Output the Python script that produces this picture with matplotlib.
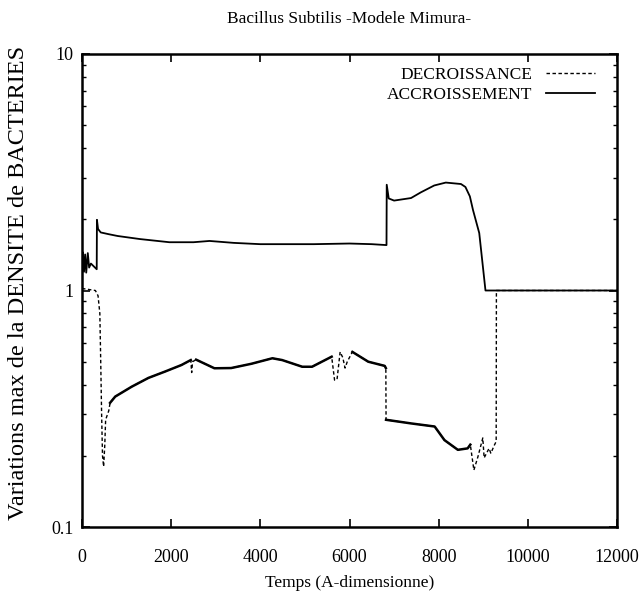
import matplotlib
matplotlib.use("Agg")
import matplotlib.pyplot as plt
import numpy as np

plt.rcParams['font.family'] = ['Liberation Serif', 'DejaVu Serif']

# ACCROISSEMENT (trait plein)
t_acc = [0, 20, 45, 70, 95, 130, 160, 200, 330, 335, 360, 420, 600, 800, 1300, 1960,
         2500, 2860, 3400, 4000, 4400, 5200, 6000, 6500, 6830, 6835, 6880, 7000,
         7380, 7600, 7900, 8160, 8500, 8600, 8700, 8770, 8910, 9050, 12000]
v_acc = [1.30, 1.45, 1.20, 1.42, 1.19, 1.44, 1.25, 1.30, 1.23, 1.99, 1.82, 1.76,
         1.73, 1.70, 1.65, 1.60, 1.60, 1.62, 1.59, 1.57, 1.57, 1.57, 1.58, 1.57, 1.556,
         2.80, 2.45, 2.40, 2.46, 2.60, 2.78, 2.86, 2.82, 2.74, 2.50, 2.19, 1.75, 1.0, 1.0]

# DECROISSANCE (pointilles)
t_dec = [0, 150, 300, 360, 400, 420, 440, 460, 485, 510, 530, 600, 630, 745, 1115,
         1490, 1860, 2230, 2440, 2460, 2480, 2560, 2970, 3345, 3800, 4270, 4490,
         4940, 5160, 5600, 5665, 5720, 5790, 5850, 5900, 5950, 6065, 6420, 6790,
         6815, 6820, 7390, 7910, 8130, 8430, 8650, 8710, 8790, 8880, 8990, 9020,
         9130, 9170, 9250, 9290, 9295, 12000]
v_dec = [1.02, 1.01, 1.0, 0.95, 0.80, 0.50, 0.30, 0.20, 0.18, 0.22, 0.284, 0.31,
         0.335, 0.356, 0.392, 0.427, 0.454, 0.484, 0.508, 0.45, 0.50, 0.51, 0.469,
         0.47, 0.49, 0.517, 0.508, 0.476, 0.476, 0.525, 0.418, 0.42, 0.55, 0.52,
         0.47, 0.50, 0.55, 0.50, 0.48, 0.47, 0.284, 0.274, 0.266, 0.233, 0.212,
         0.215, 0.223, 0.174, 0.198, 0.238, 0.196, 0.215, 0.205, 0.222, 0.23,
         1.0, 1.0]

# zones bruitees (trace epaissi)
noisy = [(630, 2440), (2560, 5600), (6065, 6815), (6820, 8710)]

xticks = [0, 2000, 4000, 6000, 8000, 10000, 12000]

fig = plt.figure(figsize=(6.41, 5.99), dpi=100)
ax = fig.add_axes([82/641, 1-527/599, 535/641, 473/599])

t_dec_a = np.array(t_dec)
v_dec_a = np.array(v_dec)
ax.plot(t_dec, v_dec, color='black', lw=1.0, ls=(0, (2.5, 1.8)), label='DECROISSANCE')
for a, b in noisy:
    m = (t_dec_a >= a) & (t_dec_a <= b)
    ax.plot(t_dec_a[m], v_dec_a[m], color='black', lw=1.8, solid_joinstyle='round')
ax.plot(t_acc, v_acc, color='black', lw=1.3, label='ACCROISSEMENT')

ax.set_yscale('log')
ax.set_ylim(0.1, 10)
ax.set_xlim(0, 12000)
ax.set_xticks(xticks)
ax.set_xticklabels([str(x) for x in xticks])
ax.set_yticks([0.1, 1, 10])
ax.set_yticklabels(['0.1', '1', '10'])
ax.tick_params(which='major', direction='in', length=6, width=1.2, top=True, right=True,
               labelsize=13)
ax.tick_params(axis='x', pad=16)
ax.tick_params(axis='y', pad=6)
ax.tick_params(which='minor', direction='in', length=3, width=1.0, top=False, right=True)
for s in ax.spines.values():
    s.set_linewidth(1.8)

ax.set_title('Bacillus Subtilis -Modele Mimura-', fontsize=12.5, pad=22)
ax.set_xlabel('Temps (A-dimensionne)', fontsize=12.5, labelpad=6)
ax.set_ylabel('Variations max de la DENSITE de BACTERIES', fontsize=17.5)
ax.yaxis.set_label_coords(-0.099, 0.516)

ax.legend(loc='upper right', bbox_to_anchor=(0.9775, 0.995), frameon=False, markerfirst=False,
          fontsize=12.5, handlelength=2.8, handletextpad=0.8, labelspacing=0.25,
          borderaxespad=0.2)

fig.savefig('out.png', dpi=100)
